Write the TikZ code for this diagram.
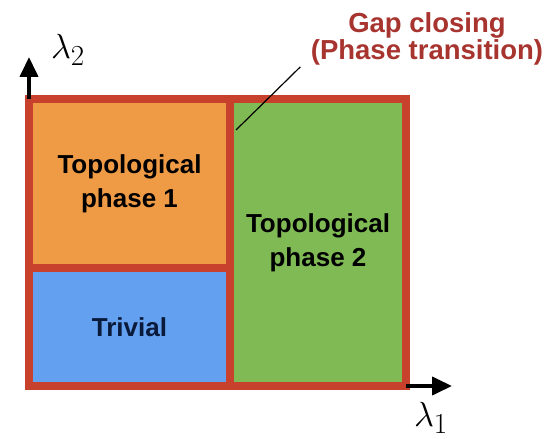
\documentclass[tikz,border=0pt]{standalone}
\usepackage{fontspec}
\usepackage{amsmath}
\usepackage{xcolor}
\usetikzlibrary{arrows.meta, positioning}
\newfontfamily\phasefont{Liberation Sans}
\definecolor{borderred}{RGB}{200,65,45}
\definecolor{labelred}{RGB}{168,52,47}
\definecolor{topoorange}{RGB}{239,155,69}
\definecolor{topogreen}{RGB}{128,186,85}
\definecolor{trivialblue}{RGB}{100,160,240}
\definecolor{trivialtext}{RGB}{10,26,58}

\begin{document}
\begin{tikzpicture}[
            x=1pt, y=1pt,
            region/.style={draw=borderred, line width=8pt, outer sep=0pt, align=center, font=\phasefont\bfseries\fontsize{26}{34}\selectfont},
            axis/.style={-{Triangle[length=20pt, width=18pt]}, line width=4pt},
            axislabel/.style={font=\Huge, scale=1.4, transform shape}
        ]
            \useasboundingbox (0,0) rectangle (557,439);
            \node[region, fill=topoorange, minimum width=201pt, minimum height=169pt] (phaseone) at (129.5,255.5) {Topological\\phase 1};
            \node[region, fill=trivialblue, text=trivialtext, minimum width=201pt, minimum height=118pt, below=0pt of phaseone] (trivial) {Trivial};
            \node[region, fill=topogreen, minimum width=176pt, minimum height=287pt, anchor=north west] (phasetwo) at (phaseone.north east) {Topological\\phase 2};
            \node[font=\phasefont\bfseries\fontsize{27.5}{27}\selectfont, text=labelred, align=center] (gaplabel) at (427,400) {Gap closing\\(Phase transition)};
            \node[axislabel] (lamtwo) at (68,389) {$\lambda_2$};
            \node[axislabel] (lamone) at (431,21) {$\lambda_1$};
            \coordinate (ytip) at (29,382);
            \coordinate (xtip) at (452,53);
            \coordinate (gapend) at (236,309);
            \draw[axis] (phaseone.north west) -- (ytip);
            \draw[axis] (phasetwo.south east) -- (xtip);
            \draw[line width=1.2pt] ([xshift=-7pt, yshift=2pt]gaplabel.south west) -- (gapend);
        \end{tikzpicture}
\end{document}
